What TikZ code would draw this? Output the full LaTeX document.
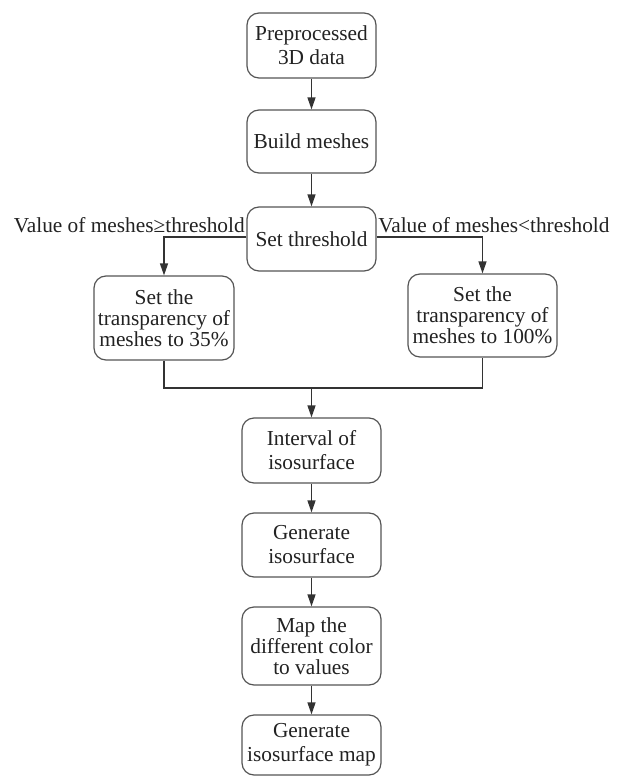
\documentclass[tikz,border=0pt]{standalone}
\usepackage{fontspec}
\setmainfont{Liberation Serif}
\usetikzlibrary{arrows.meta}
\definecolor{linec}{HTML}{333333}
\definecolor{boxc}{HTML}{555555}
\definecolor{txtc}{HTML}{222222}
\tikzset{
  box/.style={draw=boxc, line width=0.9pt, rounded corners=9pt, align=center,
    inner sep=0pt, fill=white, text=txtc, font=\fontsize{16}{15.6}\selectfont},
  boxtwo/.style={box, font=\fontsize{16}{18}\selectfont},
  lbl/.style={inner sep=0pt, text=txtc, font=\fontsize{16}{15.6}\selectfont},
  conn/.style={draw=linec, line width=1pt},
  arr/.style={conn, -{Triangle[length=9pt,width=6pt]}}
}
\begin{document}
\begin{tikzpicture}[x=0.75pt,y=-0.75pt]
\useasboundingbox (0,0) rectangle (624,777);
\node[boxtwo, minimum width=96.75pt, minimum height=48.75pt] (A) at (311.5,45.5) {Preprocessed\\3D data};
\node[box, minimum width=96.75pt, minimum height=47.25pt] (B) at (311.5,141.5) {Build meshes};
\node[box, minimum width=96.75pt, minimum height=48pt] (C) at (311.5,239) {Set threshold};
\node[box, minimum width=105pt, minimum height=63pt] (L) at (164,318) {Set the\\transparency of\\meshes to 35\%};
\node[box, minimum width=111.75pt, minimum height=62.25pt] (R) at (482.5,315.5) {Set the\\transparency of\\meshes to 100\%};
\node[boxtwo, minimum width=104.25pt, minimum height=48.75pt] (D) at (311.5,450.5) {Interval of\\isosurface};
\node[boxtwo, minimum width=104.25pt, minimum height=48pt] (E) at (311.5,545) {Generate\\isosurface};
\node[box, minimum width=104.25pt, minimum height=58.5pt] (F) at (311.5,646) {Map the\\different color\\to values};
\node[boxtwo, minimum width=104.25pt, minimum height=45pt] (G) at (311.5,745) {Generate\\isosurface map};
\node[lbl, anchor=east] (l1) at (245,225) {Value of meshes≥threshold};
\node[lbl, anchor=west] (l2) at (378,225) {Value of meshes<threshold};
\coordinate (J) at (311.5,388);
\draw[arr] (A) -- (B);
\draw[arr] (B) -- (C);
\draw[arr] (C.west |- 0,237) -| (L.north);
\draw[arr] (C.east |- 0,237) -| (R.north);
\draw[conn] (L.south) |- (J) -| (R.south);
\draw[arr] (J) -- (D);
\draw[arr] (D) -- (E);
\draw[arr] (E) -- (F);
\draw[arr] (F) -- (G);
\end{tikzpicture}
\end{document}
